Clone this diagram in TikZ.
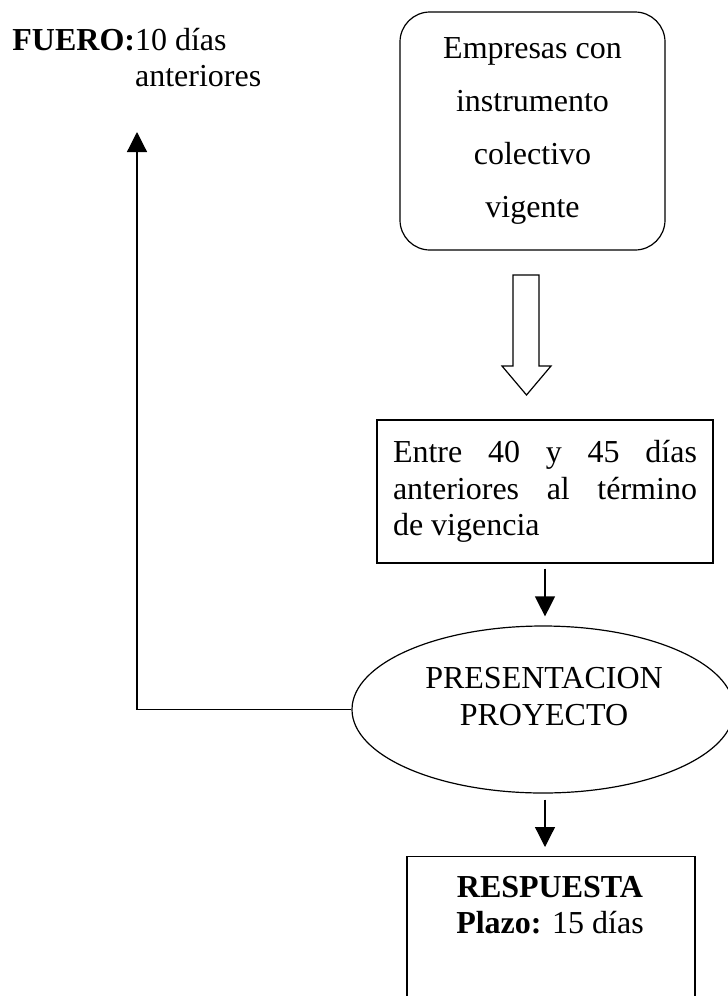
\documentclass[tikz,border=0pt]{standalone}
\usepackage{fontspec}
\setmainfont{Liberation Serif}
\usetikzlibrary{arrows.meta,shapes.geometric}
\tikzset{
  lw/.style={line width=0.6pt},
  txt/.style={font=\fontsize{16pt}{18.4pt}\selectfont, inner sep=0pt},
  arr/.style={lw, -{Triangle[length=10pt,width=10pt]}},
  roundbox/.style={draw, lw, rounded corners=15pt, minimum width=132.5pt, minimum height=119pt,
     align=center, inner sep=0pt, font=\fontsize{16pt}{26.6pt}\selectfont},
  plainbox/.style={draw, lw, inner sep=0pt},
  ovalbox/.style={draw, lw, ellipse, inner sep=0pt, minimum width=191pt, minimum height=83.5pt}
}
\begin{document}
\begin{tikzpicture}[x=0.5pt,y=-0.5pt]
\useasboundingbox (0,0) rectangle (728,996);

% Top rounded box
\node[roundbox] (emp) at (532.5,131) {Empresas con\\instrumento\\colectivo\\vigente};

% Hollow block arrow
\draw[lw, line join=miter] (513,275) -- (539,275) -- (539,366) -- (551,366) -- (526.5,395)
   -- (502,366) -- (513,366) -- cycle;

% Entre box
\node[plainbox, txt, minimum width=168pt, minimum height=71.5pt, text width=152pt, align=justify]
  (entre) at (545,491.5) {Entre 40 y 45 días\linebreak anteriores al término\linebreak de vigencia};

% Ellipse
\node[ovalbox] (pres) at (543,709.5) {};
\node[txt, anchor=base] (pres1) at (544,688) {PRESENTACION};
\node[txt, anchor=base] (pres2) at (544,725) {PROYECTO};

% Respuesta box (runs past the bottom edge)
\node[plainbox, anchor=north, minimum width=144pt, minimum height=90pt] (resp) at (551,856) {};
\node[txt, anchor=base] (resp1) at (550,897) {\textbf{RESPUESTA}};
\node[txt, anchor=base] (resp2) at (550,933) {\textbf{Plazo:} 15 días};

% Fuero text
\node[txt, anchor=base west] (fuero) at (12,50)
  {\begin{tabular}[t]{@{}l@{}l@{}}\textbf{FUERO:}&10 días\\ &anteriores\end{tabular}};
\coordinate (fuerotip) at (137,132);

% Connectors
\draw[arr, shorten <=2.5pt, shorten >=4.5pt] (entre.south) -- (entre.south |- pres.north);
\draw[arr, shorten <=3pt, shorten >=4.5pt] (entre.south |- pres.south) -- (entre.south |- resp.north);
\draw[arr] (pres.west) -| (fuerotip);
\end{tikzpicture}
\end{document}
